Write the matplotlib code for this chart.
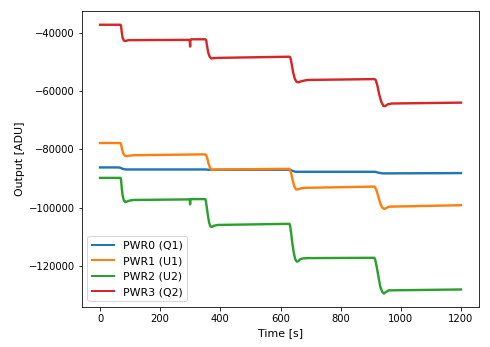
import matplotlib
matplotlib.use("Agg")
import matplotlib.pyplot as plt

# Detector output for four power channels over a stepped run
labels = ["PWR0 (Q1)", "PWR1 (U1)", "PWR2 (U2)", "PWR3 (Q2)"]

t_pwr0 = [0, 60, 68, 75, 85, 350, 360, 375, 630, 638, 650, 915, 925, 940, 1200]
v_pwr0 = [-86200, -86200, -86300, -86700, -86900, -86900, -87000, -87000,
          -87000, -87300, -87700, -87700, -88000, -88250, -88150]

t_pwr1 = [0, 68, 70, 73, 77, 82, 88, 95, 110, 350, 353, 357, 362, 367, 372,
          378, 390, 630, 632, 636, 641, 646, 651, 656, 662, 672, 690, 912,
          915, 920, 926, 932, 938, 944, 950, 960, 1200]
v_pwr1 = [-77800, -77800, -78300, -79800, -81300, -82100, -82300, -82200,
          -82000, -81700, -82000, -83300, -85300, -86600, -87100, -87000,
          -86900, -86700, -87100, -88500, -90800, -92800, -93700, -93800,
          -93600, -93300, -93200, -92800, -93200, -94300, -96500, -98700,
          -100000, -100450, -100300, -99700, -99200]

t_pwr2 = [0, 68, 70, 72, 75, 79, 84, 88, 95, 110, 298, 299.5, 300.5, 302,
          350, 352, 355, 359, 363, 367, 372, 378, 390, 630, 632, 635, 639,
          644, 649, 654, 659, 665, 675, 690, 912, 915, 920, 926, 932, 938,
          944, 950, 960, 1200]
v_pwr2 = [-89800, -89800, -90500, -93000, -95800, -97500, -98100, -98000,
          -97700, -97400, -97200, -98900, -97200, -97100, -97100, -97800,
          -100000, -103000, -105300, -106500, -106700, -106300, -106000,
          -105600, -106300, -108500, -112000, -115500, -117800, -118600,
          -118500, -117800, -117500, -117400, -117300, -118000, -120500,
          -124000, -127300, -129000, -129600, -129100, -128500, -128200]

t_pwr3 = [0, 68, 70, 72, 75, 79, 84, 95, 298, 299.5, 300.5, 302, 305, 350,
          353, 356, 360, 365, 370, 378, 390, 630, 633, 637, 642, 648, 654,
          660, 670, 690, 913, 917, 922, 928, 935, 942, 948, 956, 970, 1200]
v_pwr3 = [-37100, -37100, -37500, -39500, -41500, -42500, -42700, -42400,
          -42300, -44600, -42300, -42200, -42100, -42100, -42500, -44500,
          -46800, -48200, -48700, -48600, -48500, -48100, -48500, -50500,
          -53500, -55800, -56800, -56900, -56500, -56100, -55800, -56200,
          -58000, -61000, -63600, -65000, -65100, -64500, -64200, -63900]

series = [(t_pwr0, v_pwr0), (t_pwr1, v_pwr1), (t_pwr2, v_pwr2), (t_pwr3, v_pwr3)]

fig = plt.figure(figsize=(490 / 72, 347 / 72), dpi=72)
ax = fig.add_axes([0.1673, 0.1153, 0.8103, 0.8521])

for (t, v), lab in zip(series, labels):
    ax.plot(t, v, lw=2.4, label=lab)

ax.set_xlabel("Time [s]", fontsize=11)
ax.set_ylabel("Output [ADU]", fontsize=11)
ax.set_xticks([0, 200, 400, 600, 800, 1000, 1200])
ax.tick_params(labelsize=10)

leg = ax.legend(loc="lower left", fontsize=11)
for line in leg.get_lines():
    line.set_linewidth(2.0)

fig.savefig("out.png", dpi=72)
